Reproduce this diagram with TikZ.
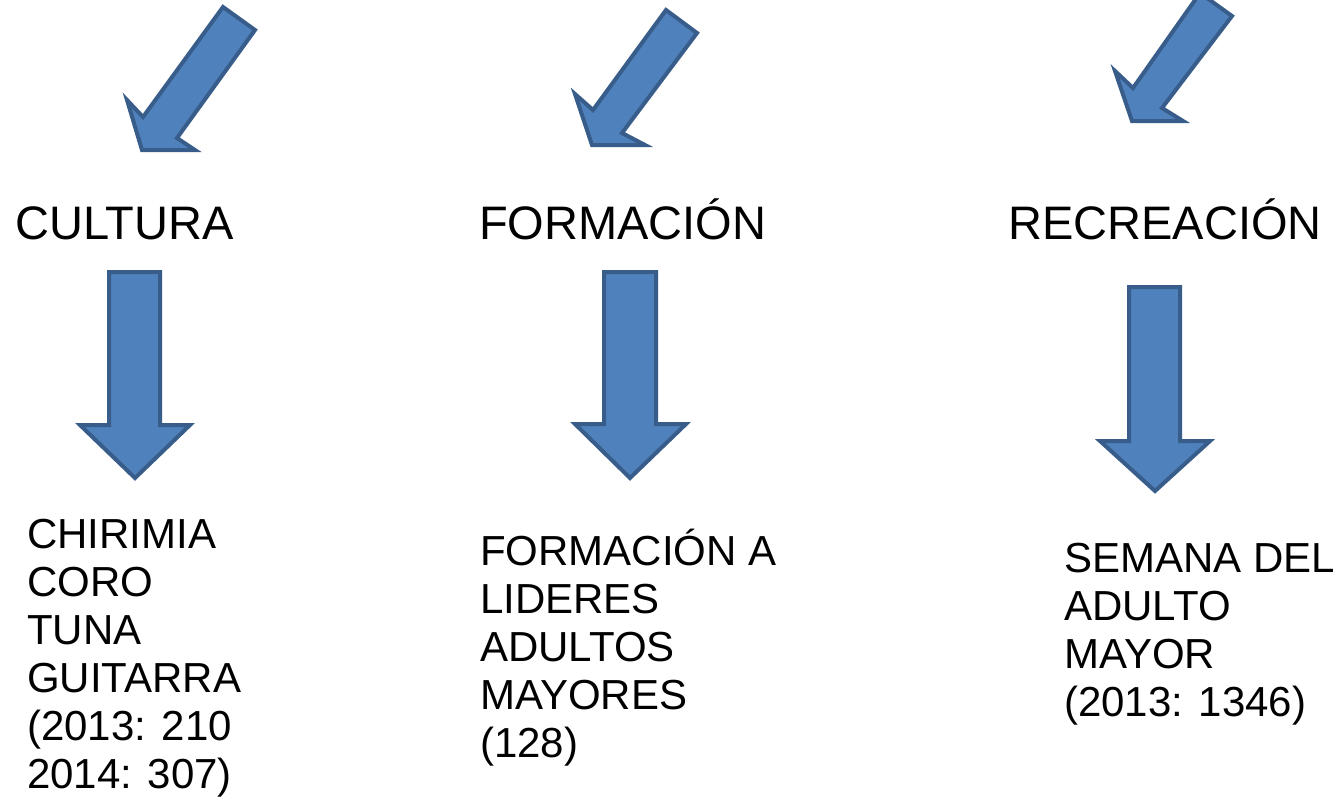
\documentclass[tikz,border=0pt]{standalone}
\usepackage{fontspec}
\setmainfont{Liberation Sans}
\definecolor{arrowfill}{HTML}{4F81BD}
\definecolor{arrowline}{HTML}{385D8A}
\tikzset{
  blockarrow/.style={fill=arrowfill, draw=arrowline, line width=3pt},
  titletext/.style={anchor=base west, inner sep=0pt, font=\fontsize{35.25}{40}\selectfont},
  listtext/.style={anchor=base west, inner sep=0pt, align=left, font=\fontsize{31.5}{36}\selectfont}
}

\begin{document}
\begin{tikzpicture}[x=0.75pt, y=-0.75pt]
    \useasboundingbox (0,0) rectangle (1341,811);
    \begin{scope}
    \clip (0,0) rectangle (1341,811);
    \draw [blockarrow] (223,7) -- (255,30) -- (177,138) -- (195,150) -- (142,150) -- (127,100) -- (143,117) -- cycle;
    \draw [blockarrow] (666,10) -- (697,33) -- (622,133) -- (645,145) -- (592,145) -- (575,94) -- (593,110) -- cycle;
    \draw [blockarrow] (1200,-7) -- (1232,16) -- (1162,108) -- (1183,121) -- (1132,121) -- (1115,71) -- (1133,88) -- cycle;
    \end{scope}
    \node (cultura) at (15,239) [titletext] {CULTURA};
    \node (formacion) at (479,239) [titletext] {FORMACIÓN};
    \node (recreacion) at (1008,239) [titletext] {RECREACIÓN};
    \draw [blockarrow] (109,272) -- (160,272) -- (160,425) -- (190,425) -- (135,478) -- (80,425) -- (109,425) -- cycle;
    \draw [blockarrow] (604,272) -- (656,272) -- (656,424) -- (686,424) -- (630,478) -- (575,424) -- (604,424) -- cycle;
    \draw [blockarrow] (1129,287) -- (1180,287) -- (1180,441) -- (1210,441) -- (1155,491) -- (1100,441) -- (1129,441) -- cycle;
    \node (lcultura) at (27,788) [listtext] {CHIRIMIA\\CORO\\TUNA\\GUITARRA\\(2013: 210\\2014: 307)};
    \node (lformacion) at (480,757) [listtext] {FORMACIÓN A\\LIDERES\\ADULTOS\\MAYORES\\(128)};
    \node (lrecreacion) at (1064,716) [listtext] {SEMANA DEL\\ADULTO\\MAYOR\\(2013: 1346)};
\end{tikzpicture}
\end{document}
